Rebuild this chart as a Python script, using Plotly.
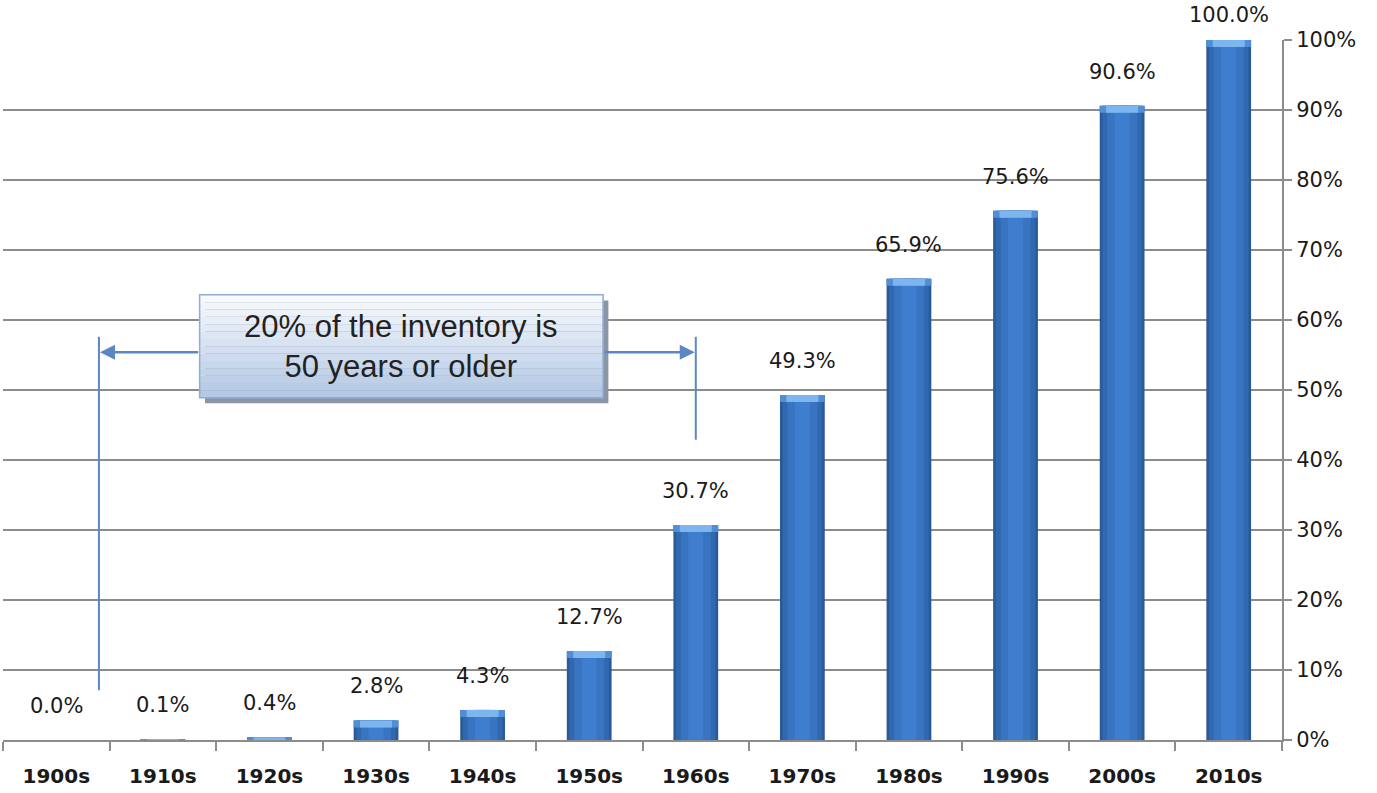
import plotly.graph_objects as go

decades = ["1900s", "1910s", "1920s", "1930s", "1940s", "1950s",
           "1960s", "1970s", "1980s", "1990s", "2000s", "2010s"]
cum_pct = [0.0, 0.1, 0.4, 2.8, 4.3, 12.7, 30.7, 49.3, 65.9, 75.6, 90.6, 100.0]
y_ticks = [0, 10, 20, 30, 40, 50, 60, 70, 80, 90, 100]
y_tick_labels = [f"{v}%" for v in y_ticks]
note_text = "20% of the inventory is<br>50 years or older"

FONT = "DejaVu Sans, Verdana, sans-serif"

fig = go.Figure()

# layered bars to imitate the cylinder shading
layers = [(0.42, "#2A5A98"), (0.37, "#3268AF"), (0.28, "#3874C1"), (0.14, "#3F7ECE")]
for w, c in layers:
    fig.add_trace(go.Bar(x=decades, y=cum_pct, width=w, marker_color=c,
                         marker_line_width=0, hoverinfo="skip", showlegend=False))
# light top bevel
cap = [min(v, 1.0) for v in cum_pct]
fig.add_trace(go.Bar(x=decades, y=cap, base=[v - c for v, c in zip(cum_pct, cap)],
                     width=0.42, marker_color="#4F8FD8", marker_line_width=0,
                     hoverinfo="skip", showlegend=False))
fig.add_trace(go.Bar(x=decades, y=cap, base=[v - c for v, c in zip(cum_pct, cap)],
                     width=0.30, marker_color="#7DB5EE", marker_line_width=0,
                     hoverinfo="skip", showlegend=False))

# value labels
for d, v in zip(decades, cum_pct):
    fig.add_annotation(x=d, y=v, text=f"{v:.1f}%", showarrow=False,
                       yanchor="bottom", yshift=20 if v < 95 else 11,
                       font=dict(family=FONT, size=21, color="#1a1a1a"))

# callout box (shadow + gradient bands)
x0, x1, y0, y1 = 1.345, 5.13, 48.9, 63.6
fig.add_shape(type="rect", x0=x0 + 0.05, x1=x1 + 0.05, y0=y0 - 0.8, y1=y1 - 0.8,
              fillcolor="#8A96A6", line_width=0, layer="above")
n = 14
top_c = (248, 250, 253)
bot_c = (180, 201, 229)
for i in range(n):
    t = i / (n - 1)
    col = tuple(int(top_c[k] + (bot_c[k] - top_c[k]) * t) for k in range(3))
    ya = y1 - (y1 - y0) * i / n
    yb = y1 - (y1 - y0) * (i + 1) / n
    fig.add_shape(type="rect", x0=x0, x1=x1, y0=yb, y1=ya,
                  fillcolor=f"rgb{col}", line_width=0, layer="above")
fig.add_shape(type="rect", x0=x0, x1=x1, y0=y0, y1=y1,
              line=dict(color="#8EAED6", width=1.5), layer="above")
fig.add_annotation(x=(x0 + x1) / 2, y=(y0 + y1) / 2, text=note_text,
                   showarrow=False,
                   font=dict(family="Liberation Sans, Arial", size=31, color="#222"))

# bracket lines and arrows
line_c = "#5B87C3"
fig.add_shape(type="line", x0=0.40, x1=0.40, y0=7.1, y1=57.6,
              line=dict(color=line_c, width=2), layer="above")
fig.add_shape(type="line", x0=6.0, x1=6.0, y0=42.9, y1=57.6,
              line=dict(color=line_c, width=2), layer="above")
fig.add_annotation(x=0.41, y=55.4, ax=x0, ay=55.4, axref="x", ayref="y",
                   xref="x", yref="y", text="", showarrow=True,
                   arrowhead=2, arrowsize=1.2, arrowwidth=2.5, arrowcolor=line_c)
fig.add_annotation(x=5.99, y=55.4, ax=x1, ay=55.4, axref="x", ayref="y",
                   xref="x", yref="y", text="", showarrow=True,
                   arrowhead=2, arrowsize=1.2, arrowwidth=2.5, arrowcolor=line_c)

fig.update_layout(
    barmode="overlay",
    width=1377, height=793,
    margin=dict(l=3, r=95, t=40, b=53),
    plot_bgcolor="white", paper_bgcolor="white",
    showlegend=False,
    xaxis=dict(type="category", tickson="boundaries", ticks="outside", ticklen=9,
               tickcolor="#8C8C8C", tickwidth=2, showline=True, linecolor="#8C8C8C",
               linewidth=2, showgrid=False, range=[-0.5, 11.5], ticklabelstandoff=17,
               tickfont=dict(family=FONT, size=20, color="#1a1a1a", weight="bold")),
    yaxis=dict(side="right", range=[0, 100], tickvals=y_ticks, ticktext=y_tick_labels,
               ticks="outside", ticklen=8, tickcolor="#8C8C8C", tickwidth=2,
               showline=True, linecolor="#8C8C8C", linewidth=2,
               showgrid=True, gridcolor="#8C8C8C", gridwidth=1.5, zeroline=False,
               tickfont=dict(family=FONT, size=21, color="#1a1a1a")),
)

fig.write_html("out.html", config={"displayModeBar": False},
               post_script="document.body.style.margin='0';document.body.style.overflow='hidden';")
